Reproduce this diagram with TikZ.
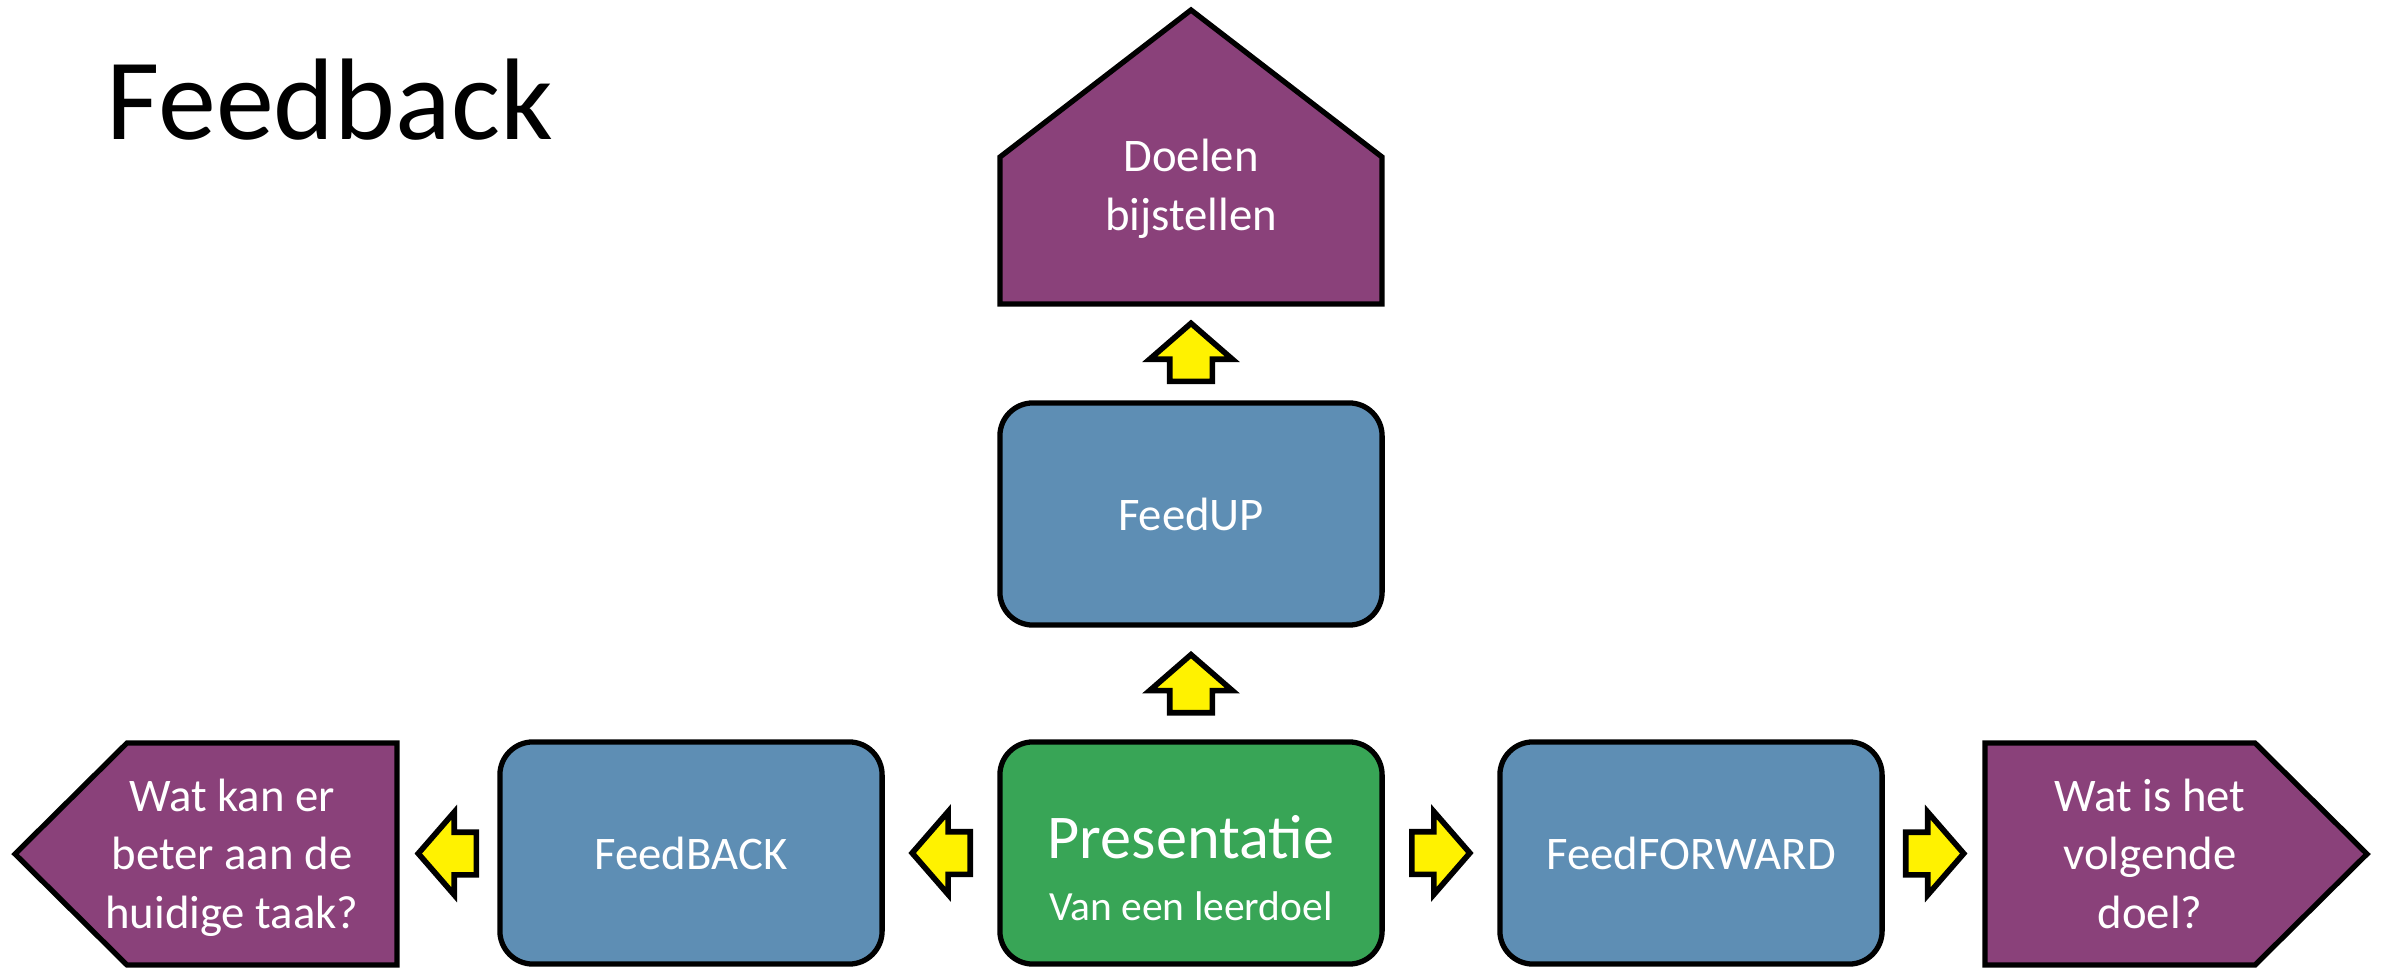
\documentclass[tikz,border=0pt]{standalone}
\usepackage{fontspec}
\setmainfont{Carlito}
\usetikzlibrary{shapes.arrows,calc}

\definecolor{paars}{HTML}{8A417A}
\definecolor{blauw}{HTML}{5E8EB4}
\definecolor{groen}{HTML}{38A556}

\tikzset{
  blok/.style={draw, line width=1.5pt, rounded corners=0.33cm, minimum width=3.82cm, minimum height=2.22cm, text=white, font=\fontsize{13.29pt}{16.5pt}\selectfont},
  doel/.style={draw, fill=paars, line width=1.5pt},
  doeltekst/.style={text=white, align=center, inner sep=0pt, font=\fontsize{13.29pt}{16.5pt}\selectfont},
  pijl/.style={single arrow, draw, fill=yellow, line width=1.6pt, anchor=tail, minimum height=0.58cm, minimum width=0pt, inner xsep=0pt, inner ysep=0.185cm, single arrow head extend=0.2cm, single arrow tip angle=98}
}

\begin{document}
\begin{tikzpicture}[x=0.01cm, y=-0.01cm]
  \useasboundingbox (0,0) rectangle (2384,969);
  % titel
  \node[anchor=base west, inner sep=0pt, font=\fontsize{33pt}{38pt}\selectfont] (titel) at (106,139) {Feedback};
  % blokken
  \node[blok, fill=groen] (pres) at (1191,853) {};
  \node[anchor=base, align=center, inner sep=0pt, text=white, font=\fontsize{11.8pt}{17.4pt}\selectfont] (prestekst) at (1191,920) {{\fontsize{17.7pt}{17.4pt}\selectfont Presentatie}\\Van een leerdoel};
  \node[blok, fill=blauw] (up) at (1191,514) {FeedUP};
  \node[blok, fill=blauw] (back) at (691,853) {FeedBACK};
  \node[blok, fill=blauw] (forward) at (1691,853) {FeedFORWARD};
  % doelen
  \draw[doel] (1000,304) -- (1000,157) -- (1191,10) -- (1382,157) -- (1382,304) -- cycle;
  \coordinate (boven) at (1191,304);
  \node[doeltekst, anchor=base] (bijstellen) at (1191,230) {Doelen\\bijstellen};
  \draw[doel] (397,743) -- (127,743) -- (15,854) -- (127,965) -- (397,965) -- cycle;
  \coordinate (links) at (397,854);
  \node[doeltekst, anchor=base] (taak) at (232,928) {Wat kan er\\beter aan de\\huidige taak?};
  \draw[doel] (1985,743) -- (2255,743) -- (2367,854) -- (2255,965) -- (1985,965) -- cycle;
  \coordinate (rechts) at (1985,854);
  \node[doeltekst, anchor=base] (volgende) at (2150,928) {Wat is het\\volgende\\doel?};
  % pijlen (staart achter het midden van de tussenruimte)
  \node[pijl, rotate=90] (p1) at ($(pres.north)!0.5!(up.south) + (0,32)$) {};
  \node[pijl, rotate=90] (p2) at ($(up.north)!0.5!(boven) + (0,32)$) {};
  \node[pijl, rotate=180] (p3) at ($(pres.west)!0.5!(back.east) + (32,0)$) {};
  \node[pijl, rotate=180] (p4) at ($(back.west)!0.5!(links) + (32,0)$) {};
  \node[pijl] (p5) at ($(pres.east)!0.5!(forward.west) + (-32,0)$) {};
  \node[pijl] (p6) at ($(forward.east)!0.5!(rechts) + (-32,0)$) {};
\end{tikzpicture}
\end{document}
